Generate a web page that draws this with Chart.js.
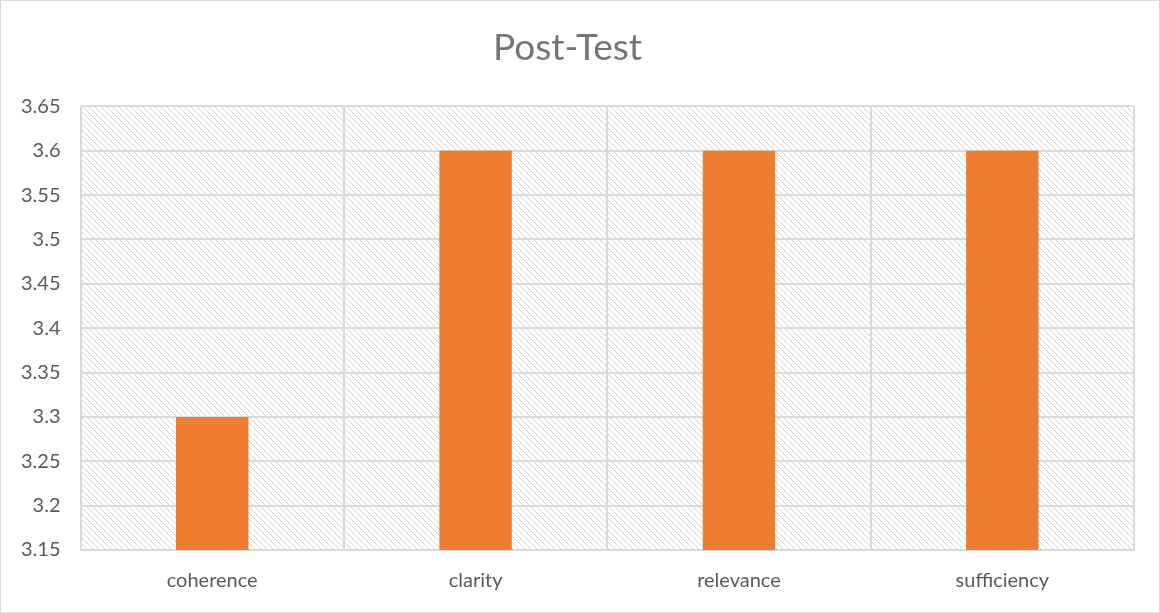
<!DOCTYPE html>
<html>
<head>
<meta charset="utf-8">
<script src="https://cdn.jsdelivr.net/npm/chart.js@4.4.0/dist/chart.umd.min.js"></script>
<style>
  html, body { margin: 0; padding: 0; background: #fff; }
  #wrap { width: 1158px; height: 611px; border: 1px solid #d9d9d9; }
</style>
</head>
<body>
<div id="wrap"><canvas id="postTest" width="1158" height="611"></canvas></div>
<script>
const categories = ['coherence', 'clarity', 'relevance', 'sufficiency']
const scores = [3.3, 3.6, 3.6, 3.6]
const yMin = 3.15
const yMax = 3.65
const yStep = 0.05

function makeHatch(ctx) {
    const tile = document.createElement('canvas')
    tile.width = 6
    tile.height = 6
    const t = tile.getContext('2d')
    t.strokeStyle = '#d3d3d3'
    t.lineWidth = 1
    t.beginPath()
    t.moveTo(-1, -1)
    t.lineTo(7, 7)
    t.moveTo(-1, 5)
    t.lineTo(1, 7)
    t.moveTo(5, -1)
    t.lineTo(7, 1)
    t.stroke()
    return ctx.createPattern(tile, 'repeat')
}

const hatchBackground = {
    id: 'hatchBackground',
    beforeDraw(chart) {
        const { ctx, chartArea } = chart
        ctx.save()
        ctx.fillStyle = makeHatch(ctx)
        ctx.fillRect(chartArea.left, chartArea.top, chartArea.right - chartArea.left, chartArea.bottom - chartArea.top)
        ctx.restore()
    }
}

const el = document.getElementById('postTest').getContext('2d')
new Chart(el, {
    type: 'bar',
    data: {
        labels: categories,
        datasets: [{
            label: 'Post-Test',
            data: scores,
            backgroundColor: '#ed7d31',
            barPercentage: 0.55,
            categoryPercentage: 0.5
        }]
    },
    options: {
        responsive: false,
        animation: false,
        layout: { padding: { left: 0, right: 25, top: 19, bottom: 0 } },
        plugins: {
            legend: { display: false },
            tooltip: { enabled: false },
            title: {
                display: true,
                text: 'Post-Test',
                color: '#757575',
                font: { family: 'Lato', size: 37, weight: 'normal' },
                padding: { top: 6, bottom: 36 }
            }
        },
        scales: {
            x: {
                grid: { color: '#d9d9d9', lineWidth: 2, offset: true, drawTicks: false },
                border: { color: '#d9d9d9', width: 2 },
                ticks: { color: '#595959', font: { family: 'Lato', size: 20 }, padding: 19 }
            },
            y: {
                min: yMin,
                max: yMax,
                grid: { color: '#d9d9d9', lineWidth: 2, drawTicks: false },
                border: { display: false },
                ticks: {
                    stepSize: yStep,
                    color: '#595959',
                    font: { family: 'Lato', size: 20 },
                    padding: 20,
                    callback: v => String(Math.round(v * 100) / 100)
                }
            }
        }
    },
    plugins: [hatchBackground]
})
</script>
</body>
</html>
